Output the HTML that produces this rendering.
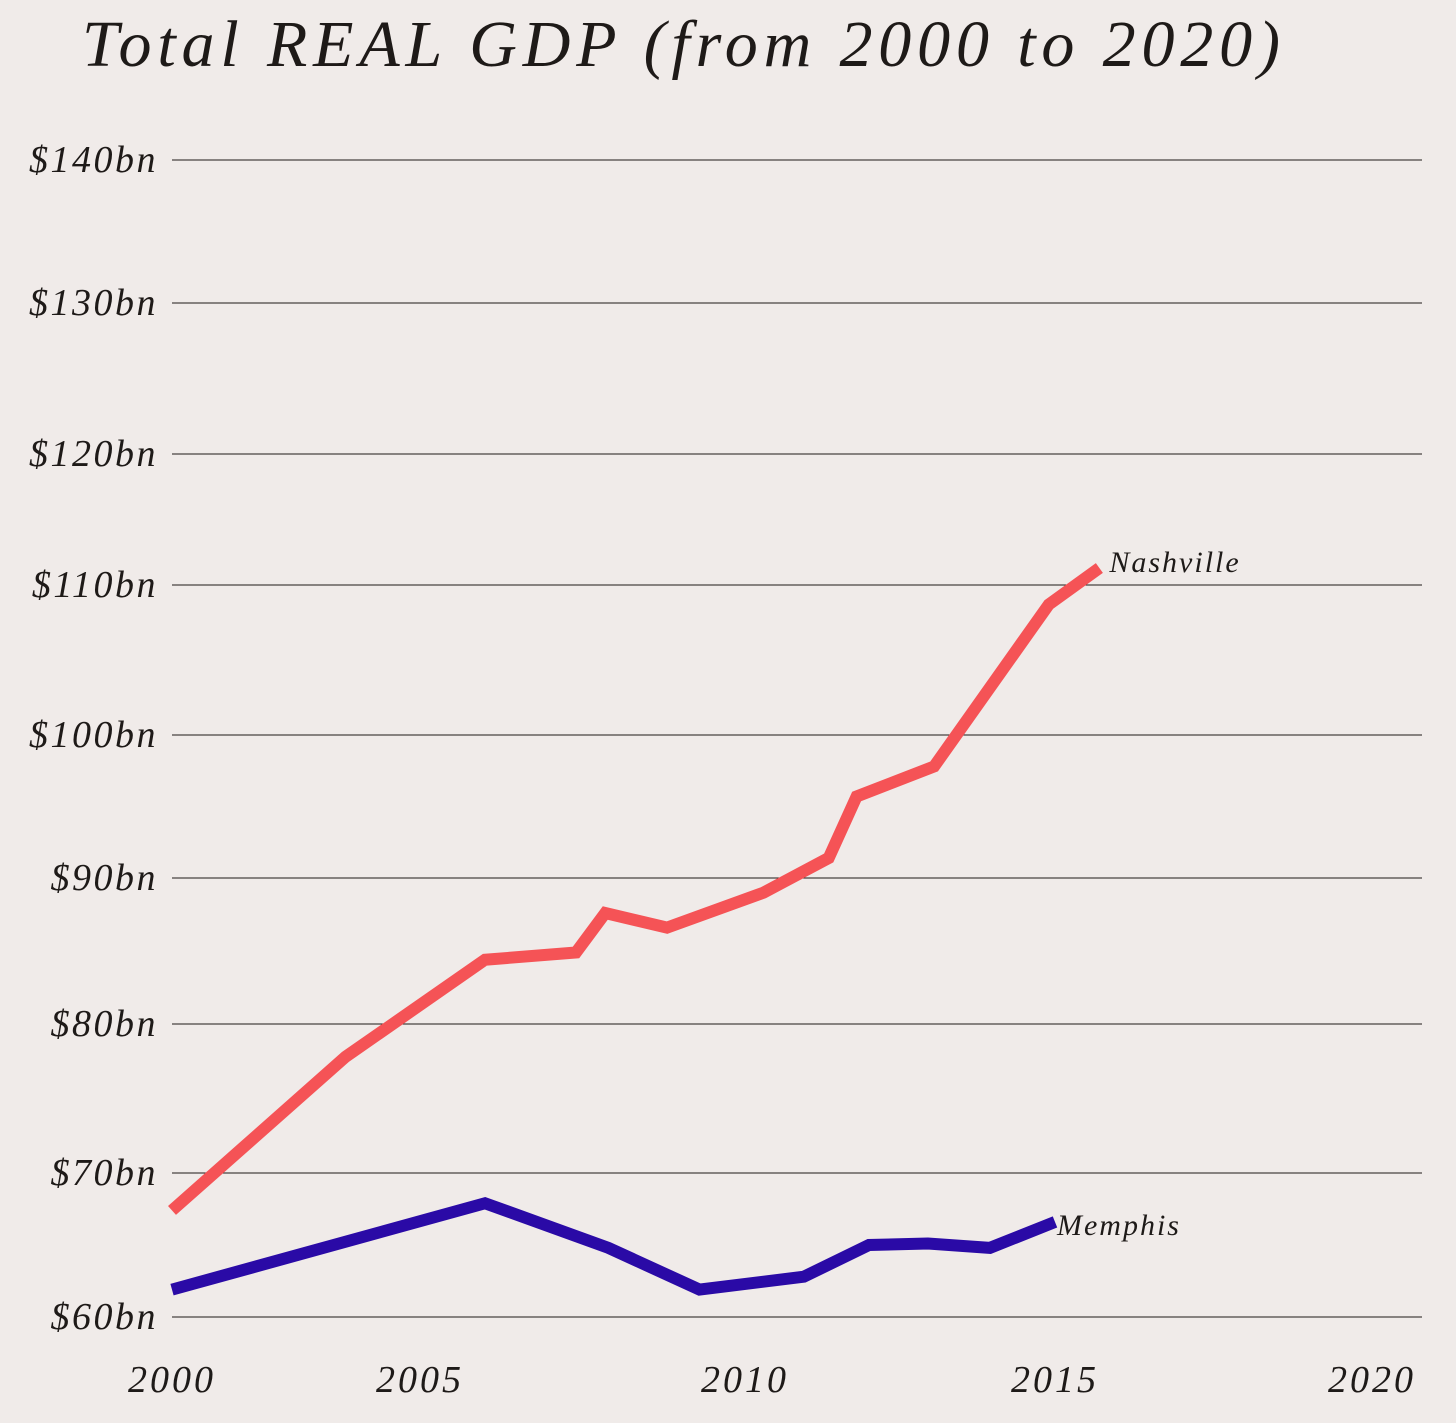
<!DOCTYPE html>
<html><head><meta charset="utf-8"><style>
html,body{margin:0;padding:0;background:#f0ebe9;}
svg{display:block;}
text{font-family:"Liberation Serif",serif;font-style:italic;fill:#1e1a18;}
</style></head><body>
<svg id="chart" width="1456" height="1423" viewBox="0 0 1456 1423">
<rect width="1456" height="1423" fill="#f0ebe9"/>
<text x="82" y="66" font-size="66" textLength="1198" lengthAdjust="spacing">Total REAL GDP (from 2000 to 2020)</text>
<g id="grid"></g><g id="series"></g>
</svg>
<script>
const yTickValues=[60,70,80,90,100,110,120,130,140];
const yTickLabels=["$60bn","$70bn","$80bn","$90bn","$100bn","$110bn","$120bn","$130bn","$140bn"];
const xTickValues=[2000,2005,2010,2015,2020];
const xTickLabels=["2000","2005","2010","2015","2020"];
const nashYears=[2000,2003.5,2006.0,2007.4,2007.85,2008.8,2010.3,2011.35,2011.8,2013.05,2014.9,2015.7];
const nashValues=[67.4,77.8,84.4,84.9,87.6,86.6,89.0,91.4,95.7,97.8,108.7,111.3];
const memYears=[2000,2006.0,2007.9,2009.3,2010.95,2012.0,2012.95,2013.95,2015.0];
const memValues=[61.9,67.9,64.8,61.9,62.8,65.0,65.1,64.8,66.6];
const yPix=[1317,1173,1024,878,735,585,454,303,160];
const xPix=[172,420,745,1055,1372];
function interp(v,dom,rng){
  let i=0;while(i<dom.length-2&&v>dom[i+1])i++;
  return rng[i]+(v-dom[i])/(dom[i+1]-dom[i])*(rng[i+1]-rng[i]);
}
const xs=v=>interp(v,xTickValues,xPix);
const ys=v=>interp(v,yTickValues,yPix);
const NS="http://www.w3.org/2000/svg";
const grid=document.getElementById('grid'),ser=document.getElementById('series');
function mk(tag,attrs,parent){const e=document.createElementNS(NS,tag);for(const k in attrs)e.setAttribute(k,attrs[k]);parent.appendChild(e);return e;}
yTickValues.forEach((v,i)=>{
  const l=mk('line',{x1:172,x2:1422,y1:ys(v),y2:ys(v),stroke:'#1e1a18','stroke-width':1.1},grid);
  
  
  const t=mk('text',{x:158,y:ys(v)+12,'font-size':38,'text-anchor':'end','letter-spacing':2.5},grid);
  t.textContent=yTickLabels[i];
  
  
});
xTickValues.forEach((v,i)=>{
  const t=mk('text',{x:xs(v),y:1392,'font-size':38,'text-anchor':'middle','letter-spacing':3},grid);
  t.textContent=xTickLabels[i];
  
  
});
function line(xsArr,vals,color,name){
  const p=mk('polyline',{points:xsArr.map((x,i)=>xs(x)+','+ys(vals[i])).join(' '),fill:'none',stroke:color,'stroke-width':12,'stroke-linejoin':'miter'},ser);
  
  
}
line(nashYears,nashValues,'#f55356','nashville');
line(memYears,memValues,'#2a0aa6','memphis');
const n=nashYears.length-1,m=memYears.length-1;
const tn=mk('text',{x:xs(nashYears[n])+10,y:ys(nashValues[n])+4,'font-size':30,'letter-spacing':2},ser);
tn.textContent='Nashville';


const tm=mk('text',{x:xs(memYears[m])+2,y:ys(memValues[m])+13,'font-size':30,'letter-spacing':2},ser);
tm.textContent='Memphis';


</script>
</body></html>
